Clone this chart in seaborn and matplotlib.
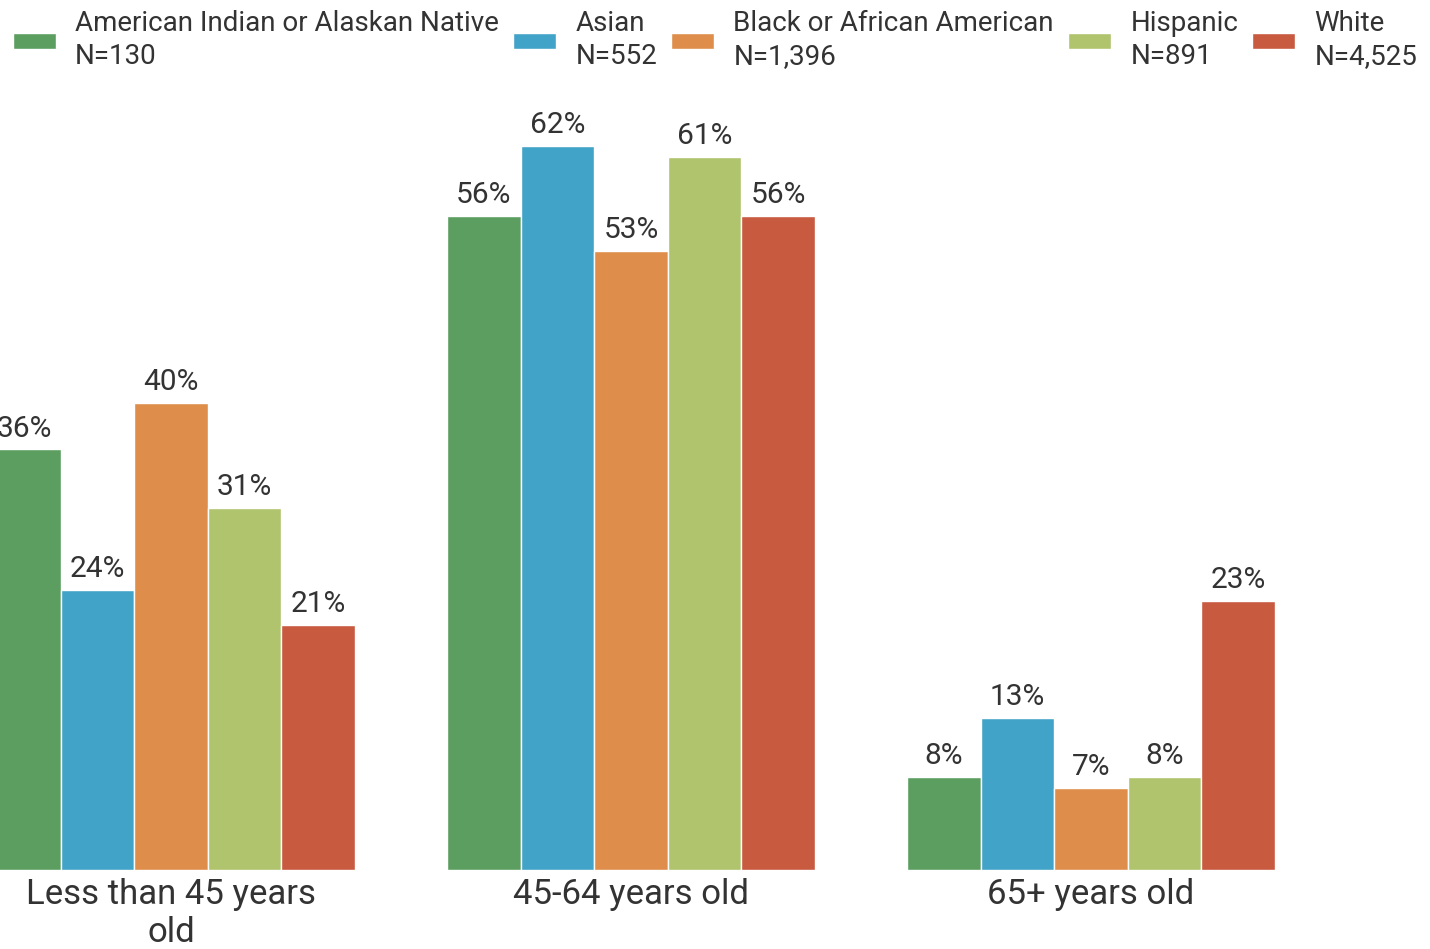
import matplotlib
matplotlib.use("Agg")
import matplotlib.pyplot as plt
import seaborn as sns
import pandas as pd

age_groups = ["Less than 45 years\nold", "45-64 years old", "65+ years old"]
races = ["American Indian or Alaskan Native\nN=130", "Asian\nN=552",
         "Black or African American\nN=1,396", "Hispanic\nN=891", "White\nN=4,525"]
american_indian = [36, 56, 8]
asian = [24, 62, 13]
black = [40, 53, 7]
hispanic = [31, 61, 8]
white = [21, 56, 23]
colors = ["#5B9E5F", "#42A3C8", "#DE8E4A", "#B0C46D", "#C85A40"]

rows = []
for race, vals in zip(races, [american_indian, asian, black, hispanic, white]):
    for g, v in zip(age_groups, vals):
        rows.append({"age": g, "race": race, "pct": v})
df = pd.DataFrame(rows)

sns.set_theme(style="white")
plt.rcParams["font.family"] = ["Roboto", "DejaVu Sans"]
plt.rcParams["text.color"] = "#333333"

fig = plt.figure(figsize=(14.3, 9.49), dpi=100)
ax = fig.add_axes([0, 0.0832, 1, 0.8125])
sns.barplot(data=df, x="age", y="pct", hue="race", palette=colors,
            order=age_groups, hue_order=races, width=0.8, saturation=1,
            edgecolor="white", linewidth=1, ax=ax, legend=True)
ax.set_xlim(-0.372, 2.737)
ax.set_ylim(0, 66)
for c in ax.containers:
    ax.bar_label(c, labels=[f"{int(v)}%" for v in c.datavalues], padding=5,
                 fontsize=21.5, color="#333333")
for s in ax.spines.values():
    s.set_visible(False)
ax.set_yticks([])
ax.set_ylabel("")
ax.set_xlabel("")
ax.tick_params(axis="x", length=0, labelsize=25, pad=6, labelcolor="#333333")
for t in ax.get_xticklabels():
    t.set_linespacing(1.18)

h, l = ax.get_legend_handles_labels()
ax.get_legend().remove()
leg = fig.legend(h, l, loc="upper center", bbox_to_anchor=(0.5, 1.001), ncol=5,
                 frameon=False, fontsize=20, handlelength=1.55, handleheight=0.5,
                 handletextpad=0.7, columnspacing=0.5, borderaxespad=0, labelspacing=0)
for t in leg.get_texts():
    t.set_linespacing(1.3)

fig.savefig("out.png", dpi=100)
